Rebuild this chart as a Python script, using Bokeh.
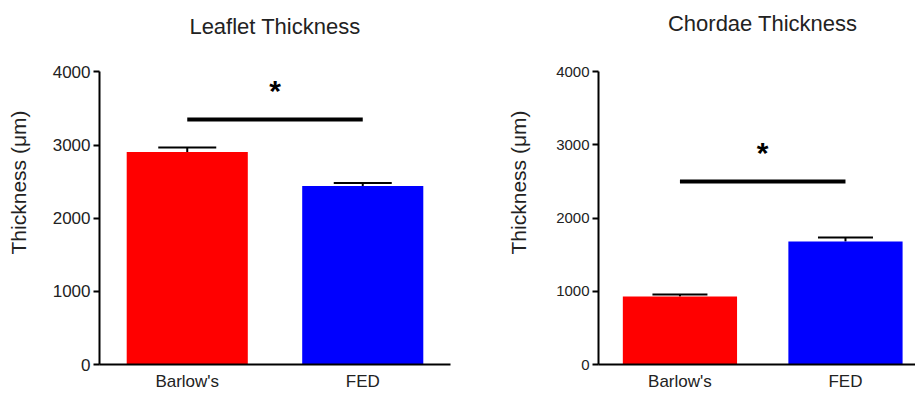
from bokeh.plotting import figure
from bokeh.layouts import row
from bokeh.models import ColumnDataSource, Range1d, FixedTicker, Whisker, TeeHead, Label
from bokeh.core.properties import value
from bokeh.embed import file_html
from bokeh.resources import INLINE

# ---- data ----
categories = ["Barlow's", "FED"]
bar_colors = ["#FF0000", "#0000FF"]
yticks = [0, 1000, 2000, 3000, 4000]
y_max_axis = 4000

leaflet_mean = [2905, 2440]
leaflet_upper = [2965, 2480]
leaflet_sig_y = 3350
leaflet_star_y = 3780

chordae_mean = [930, 1680]
chordae_upper = [955, 1735]
chordae_sig_y = 2500
chordae_star_y = 2920

FONT = "Liberation Sans"
TXT = "#222222"
H = 396


def make_panel(title, means, uppers, sig_y, star_y, width, x_range, left, right,
               axis_top_px, axis_bottom_px, title_px, cap_px, tick_fs, ylabel_standoff):
    # frame spans the whole height above the x axis; the y axis line is bounded to 0..4000
    px_per_unit = (axis_bottom_px - axis_top_px) / y_max_axis
    y_top = axis_bottom_px / px_per_unit
    title_y = (axis_bottom_px - title_px) / px_per_unit

    xs = list(range(1, len(categories) + 1))
    src = ColumnDataSource(dict(x=xs, top=means, upper=uppers, color=bar_colors))
    p = figure(width=width, height=H, x_range=x_range, y_range=Range1d(0, y_top),
               output_backend="svg", toolbar_location=None, title=None,
               min_border_left=left, min_border_right=right,
               min_border_top=0, min_border_bottom=H - axis_bottom_px)
    p.outline_line_color = None
    p.grid.visible = False
    p.background_fill_color = "white"
    p.border_fill_color = "white"

    p.add_layout(Label(x=(xs[0] + xs[-1]) / 2, y=title_y, text=title,
                       text_font=FONT, text_font_size="22px", text_color=TXT,
                       text_align="center", text_baseline="middle"))

    p.vbar(x="x", top="top", bottom=0, width=0.69, fill_color="color",
           line_color=None, source=src)
    p.add_layout(Whisker(base="x", upper="upper", lower="top", source=src,
                         dimension="height", line_color="black", line_width=2,
                         upper_head=TeeHead(size=cap_px, line_width=2, line_color="black"),
                         lower_head=None))

    # significance bar and star
    p.segment(x0=[xs[0]], x1=[xs[-1]], y0=[sig_y], y1=[sig_y],
              line_color="black", line_width=4)
    p.text(x=[(xs[0] + xs[-1]) / 2], y=[star_y], text=["*"],
           text_font=value(FONT), text_font_size="30px", text_font_style="bold",
           text_align="center", text_baseline="middle", y_offset=2,
           text_color="black")

    ya = p.yaxis[0]
    ya.ticker = FixedTicker(ticks=yticks)
    ya.bounds = (0, y_max_axis)
    ya.minor_tick_line_color = None
    ya.axis_line_width = 2
    ya.major_tick_line_width = 2
    ya.major_tick_in = 0
    ya.major_tick_out = 6
    ya.major_label_standoff = 3
    ya.major_label_text_font = FONT
    ya.major_label_text_font_size = tick_fs
    ya.major_label_text_color = TXT
    ya.axis_label = "Thickness (μm)"
    ya.axis_label_text_font = FONT
    ya.axis_label_text_font_style = "normal"
    ya.axis_label_text_font_size = "21px"
    ya.axis_label_text_color = TXT
    ya.axis_label_standoff = ylabel_standoff

    xa = p.xaxis[0]
    xa.ticker = FixedTicker(ticks=xs)
    xa.major_label_overrides = {x: c for x, c in zip(xs, categories)}
    xa.minor_tick_line_color = None
    xa.major_tick_line_color = None
    xa.major_tick_in = 0
    xa.major_tick_out = 0
    xa.axis_line_width = 2
    xa.major_label_standoff = 7
    xa.major_label_text_font = FONT
    xa.major_label_text_font_size = "17px"
    xa.major_label_text_color = TXT
    return p


p1 = make_panel("Leaflet Thickness", leaflet_mean, leaflet_upper, leaflet_sig_y,
                leaflet_star_y, 458, Range1d(0.5, 2.5), 99, 8, 72, 367, 26, 58, "17px", 20)
p2 = make_panel("Chordae Thickness", chordae_mean, chordae_upper, chordae_sig_y,
                chordae_star_y, 457, Range1d(0.508, 2.423), 140, 0, 71, 364, 23, 55, "15px", 23)

layout = row(p1, p2)
open("out.html", "w").write(file_html(layout, INLINE))
